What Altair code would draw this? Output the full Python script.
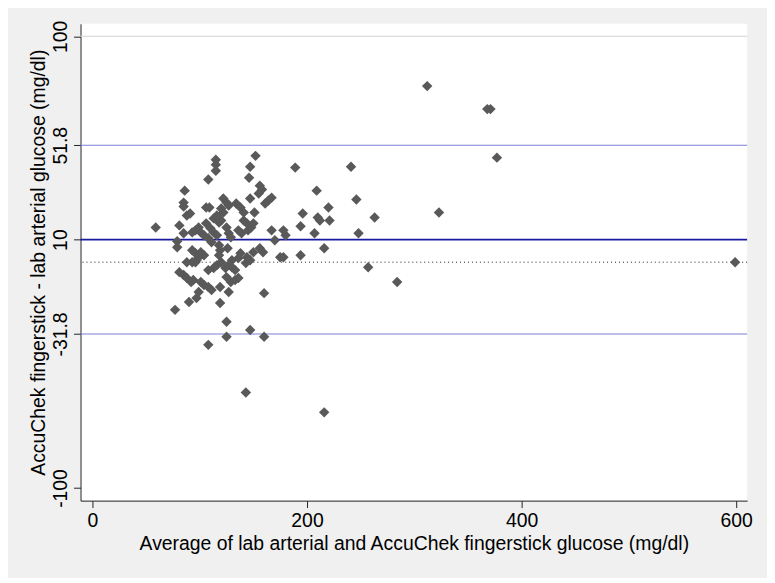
import altair as alt
import pandas as pd

# Average of the two measurements (mg/dl)
avg_glucose = [
    312, 368, 371, 377, 323, 241, 246, 263, 248, 257, 284, 599,
    189, 209, 220, 196, 194, 210, 212, 221, 207, 216, 194, 178,
    180, 170, 167, 175, 178, 160, 160, 147, 125, 125, 108, 143,
    216, 59, 77,
    115, 115, 115, 108, 152, 147, 146, 156, 158, 155, 167, 164,
    161, 147, 151, 86, 85, 85, 88, 91, 81, 106, 109, 122, 125,
    127, 120, 122, 134, 138, 141, 106, 113, 116, 118, 120, 141,
    144, 85, 93, 96, 99, 101, 104, 110, 113, 116, 125, 127, 129,
    136, 139, 145, 148, 150, 108, 111,
    79, 79, 93, 96, 99, 97, 93, 88, 101, 104, 118, 119, 126, 116,
    113, 108, 120, 124, 127, 130, 136, 143, 147, 150, 156, 159,
    138, 144, 81, 85, 88, 92, 94, 101, 104, 108, 111, 119, 125,
    129, 133, 136, 127, 99, 97, 90, 119, 130, 133, 96, 118,
]
# Difference: fingerstick - lab arterial (mg/dl)
diff_glucose = [
    78.0, 67.8, 67.8, 46.3, 22.0, 42.3, 27.8, 19.8, 12.8, -2.2, -8.8, 0.0,
    41.9, 31.7, 24.2, 21.6, 15.9, 19.8, 18.5, 18.5, 12.8, 6.2, 3.1, 14.1,
    11.9, 9.7, 14.1, 2.2, 2.2, -13.7, -33.0, -30.0, -26.4, -33.0, -36.6, -57.7,
    -66.5, 15.4, -21.1,
    45.4, 43.2, 40.5, 36.6, 47.1, 42.3, 37.4, 33.9, 32.2, 30.4, 28.6, 27.3,
    26.0, 28.2, 22.0, 31.7, 26.4, 24.7, 20.7, 21.6, 16.3, 24.2, 24.2, 28.2, 26.4,
    25.1, 23.8, 22.0, 26.0, 24.2, 22.0, 17.2, 19.4, 20.7, 17.6, 18.5, 18.5,
    17.2, 12.8, 13.2, 14.1, 15.4, 13.2, 11.9, 15.0, 13.2, 11.9, 15.4, 12.8, 11.0,
    14.1, 12.8, 14.1, 15.4, 17.2, 10.6, 8.8,
    9.3, 6.6, 5.3, 4.0, 2.2, 0.9, 0.0, 0.0, 4.4, 3.1, 7.5, 5.3, 6.2, -1.3,
    -2.6, -3.5, 0.0, -2.6, -1.3, 0.9, 1.8, -0.4, 0.9, 4.4, 6.2, 4.4,
    4.0, 2.2, -4.4, -5.7, -7.0, -8.8, -7.9, -8.8, -10.1, -11.0, -12.3, -11.0, -6.6,
    -8.8, -7.9, -7.0, -13.2, -13.2, -15.9, -17.6, -18.1, -2.2, -3.5, 0.0, 3.1,
]

y_ticks = [-100, -31.8, 10, 51.8, 100]
x_ticks = [0, 200, 400, 600]

mean_diff = [10]
limits = [51.8, -31.8]
zero_line = [0]
grid_line = [100]

points = pd.DataFrame({"avg": avg_glucose, "diff": diff_glucose})

FONT = "Liberation Sans"
FS = 19.5

x_enc = alt.X(
    "avg:Q",
    scale=alt.Scale(domain=[-11.1, 610.2], nice=False, zero=False),
    axis=alt.Axis(
        values=x_ticks, format="d", grid=False,
        title="Average of lab arterial and AccuChek fingerstick glucose (mg/dl)",
        labelFontSize=FS, titleFontSize=FS, labelFont=FONT, titleFont=FONT,
        labelColor="black", titleColor="black", titleFontWeight="normal",
        tickSize=7, tickColor="#222222", domainColor="#222222",
        labelPadding=4, titlePadding=5, labelFlush=False,
    ),
)
y_enc = alt.Y(
    "diff:Q",
    scale=alt.Scale(domain=[-105.6, 105.6], nice=False, zero=False),
    axis=alt.Axis(
        values=y_ticks, grid=False, labelExpr="datum.value",
        title="AccuChek fingerstick - lab arterial glucose (mg/dl)",
        labelFontSize=FS, titleFontSize=FS, labelFont=FONT, titleFont=FONT,
        labelColor="black", titleColor="black", titleFontWeight="normal",
        labelAngle=270, labelAlign="center", labelBaseline="bottom",
        tickSize=7, tickColor="#222222", domainColor="#222222",
        labelPadding=3, titlePadding=2, labelFlush=False,
    ),
)

scatter = alt.Chart(points).mark_point(
    shape="diamond", filled=True, size=110, color="#595959", opacity=1
).encode(x=x_enc, y=y_enc)

grid = alt.Chart(pd.DataFrame({"y": grid_line})).mark_rule(
    color="#dcdcdc", strokeWidth=1.2
).encode(y="y:Q")

lim = alt.Chart(pd.DataFrame({"y": limits})).mark_rule(
    color="#7f7fd8", strokeWidth=1.2
).encode(y="y:Q")

mean = alt.Chart(pd.DataFrame({"y": mean_diff})).mark_rule(
    color="#1a1a9e", strokeWidth=2
).encode(y="y:Q")

zero = alt.Chart(pd.DataFrame({"y": zero_line})).mark_rule(
    color="#222222", strokeWidth=1, strokeDash=[1, 3]
).encode(y="y:Q")

chart = alt.layer(grid, lim, mean, zero, scatter).properties(
    width=671, height=480,
    autosize=alt.AutoSizeParams(type="none"),
    padding={"left": 73, "top": 14, "right": 20, "bottom": 76},
    background="#f0f0f0",
).configure_view(fill="white", stroke=None)

chart.save("out.html", embed_options={"renderer": "svg", "actions": False})
